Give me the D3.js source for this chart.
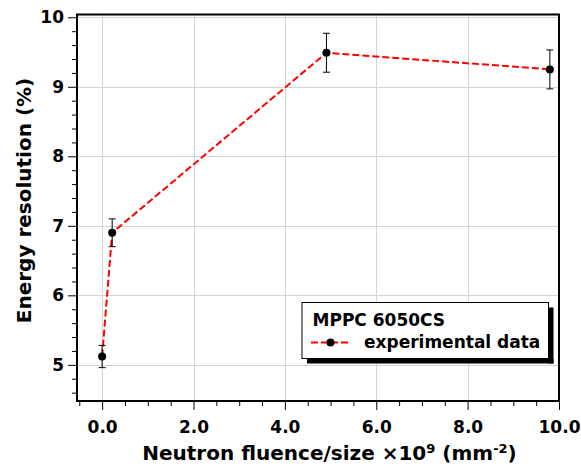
<!DOCTYPE html>
<html>
<head>
<meta charset="utf-8">
<script src="https://cdn.jsdelivr.net/npm/d3@7"></script>
<style>
  html, body { margin: 0; padding: 0; background: #fff; }
  svg { display: block; }
  text { font-family: "DejaVu Sans", Verdana, sans-serif; font-weight: bold; fill: #000; }
</style>
</head>
<body>
<svg id="chart" width="581" height="466"></svg>
<script>
// Energy resolution of the MPPC 6050CS versus neutron fluence
const fluence = [0.0, 0.22, 4.91, 9.80];          // ×10^9 mm^-2
const resolution = [5.12, 6.90, 9.49, 9.25];       // %
const resolutionErr = [0.16, 0.20, 0.28, 0.28];    // %
const xTickValues = [0, 2, 4, 6, 8, 10];
const xTickLabels = ["0.0", "2.0", "4.0", "6.0", "8.0", "10.0"];
const yTickValues = [5, 6, 7, 8, 9, 10];
const yTickLabels = ["5", "6", "7", "8", "9", "10"];
const seriesName = "experimental data";
const legendTitle = "MPPC 6050CS";

const svg = d3.select("#chart");
const plotLeft = 77, plotRight = 559, plotTop = 14.5, plotBottom = 401;

const x = d3.scaleLinear().domain([-0.55, 10.0]).range([plotLeft, plotRight]);
const y = d3.scaleLinear().domain([4.48, 10.04]).range([plotBottom, plotTop]);

// grid lines
const grid = svg.append("g").attr("stroke", "#d4d4d4").attr("stroke-width", 1);
grid.selectAll("line.v").data(xTickValues).join("line").attr("class", "v")
  .attr("x1", d => Math.round(x(d)) + 0.5).attr("x2", d => Math.round(x(d)) + 0.5)
  .attr("y1", plotTop).attr("y2", plotBottom);
grid.selectAll("line.h").data(yTickValues).join("line").attr("class", "h")
  .attr("y1", d => Math.round(y(d)) + 0.5).attr("y2", d => Math.round(y(d)) + 0.5)
  .attr("x1", plotLeft).attr("x2", plotRight);

// minor + major ticks
const xMinor = d3.range(-0.5, 10.01, 0.5).map(v => Math.round(v * 10) / 10).filter(v => !xTickValues.includes(v));
const yMinor = d3.range(4.6, 10.01, 0.2).map(v => Math.round(v * 10) / 10).filter(v => !yTickValues.includes(v));

const xAxisMajor = d3.axisBottom(x).tickValues(xTickValues).tickSize(9).tickFormat((d, i) => xTickLabels[i]).tickPadding(8);
const xAxisMinor = d3.axisBottom(x).tickValues(xMinor).tickSize(5).tickFormat("");
const yAxisMajor = d3.axisLeft(y).tickValues(yTickValues).tickSize(9).tickFormat((d, i) => yTickLabels[i]).tickPadding(4);
const yAxisMinor = d3.axisLeft(y).tickValues(yMinor).tickSize(5).tickFormat("");

function styleAxis(g) {
  g.select(".domain").remove();
  g.selectAll(".tick line").attr("stroke", "#000").attr("stroke-width", 1);
  g.selectAll(".tick text").attr("font-size", 17).attr("font-family", "DejaVu Sans").attr("font-weight", "bold").attr("fill", "#000");
}
svg.append("g").attr("transform", `translate(0,${plotBottom})`).call(xAxisMinor).call(styleAxis);
svg.append("g").attr("transform", `translate(0,${plotBottom})`).call(xAxisMajor).call(styleAxis)
  .selectAll(".tick text").attr("y", 32).attr("dy", null);
svg.append("g").attr("transform", `translate(${plotLeft},0)`).call(yAxisMinor).call(styleAxis);
svg.append("g").attr("transform", `translate(${plotLeft},0)`).call(yAxisMajor).call(styleAxis);

// frame
svg.append("rect").attr("x", plotLeft).attr("y", plotTop).attr("width", plotRight - plotLeft).attr("height", plotBottom - plotTop)
  .attr("fill", "none").attr("stroke", "#000").attr("stroke-width", 2);

const pts = fluence.map((f, i) => ({ f, r: resolution[i], e: resolutionErr[i] }));

// connecting dashed line
svg.append("path").datum(pts)
  .attr("d", d3.line().x(d => x(d.f)).y(d => y(d.r)))
  .attr("fill", "none").attr("stroke", "#ff0000").attr("stroke-width", 2)
  .attr("stroke-dasharray", "7,3");

// error bars
const eb = svg.append("g").attr("stroke", "#000").attr("stroke-width", 1);
eb.selectAll("line.bar").data(pts).join("line").attr("class", "bar")
  .attr("x1", d => x(d.f)).attr("x2", d => x(d.f))
  .attr("y1", d => y(d.r + d.e)).attr("y2", d => y(d.r - d.e));
eb.selectAll("line.capT").data(pts).join("line").attr("class", "capT")
  .attr("x1", d => x(d.f) - 3.5).attr("x2", d => x(d.f) + 3.5)
  .attr("y1", d => y(d.r + d.e)).attr("y2", d => y(d.r + d.e));
eb.selectAll("line.capB").data(pts).join("line").attr("class", "capB")
  .attr("x1", d => x(d.f) - 3.5).attr("x2", d => x(d.f) + 3.5)
  .attr("y1", d => y(d.r - d.e)).attr("y2", d => y(d.r - d.e));

// markers
svg.append("g").selectAll("circle").data(pts).join("circle")
  .attr("cx", d => x(d.f)).attr("cy", d => y(d.r)).attr("r", 4).attr("fill", "#000");

// axis titles
svg.append("text").attr("x", 329.5).attr("y", 460).attr("text-anchor", "middle").attr("font-size", 20)
  .call(t => {
    t.append("tspan").text("Neutron fluence/size ×10");
    t.append("tspan").attr("font-size", 13).attr("dy", -7).text("9");
    t.append("tspan").attr("dy", 7).text(" (mm");
    t.append("tspan").attr("font-size", 13).attr("dy", -7).text("-2");
    t.append("tspan").attr("dy", 7).text(")");
  });
svg.append("text").attr("transform", "translate(31,200.5) rotate(-90)").attr("text-anchor", "middle")
  .attr("font-size", 20).text("Energy resolution (%)");

// legend with drop shadow
const lg = svg.append("g");
const lx = 302, ly = 302.5, lw = 246.5, lh = 56, sh = 5;
lg.append("rect").attr("x", lx + lw).attr("y", ly + sh).attr("width", sh).attr("height", lh).attr("fill", "#000");
lg.append("rect").attr("x", lx + sh).attr("y", ly + lh).attr("width", lw).attr("height", sh).attr("fill", "#000");
lg.append("rect").attr("x", lx).attr("y", ly).attr("width", lw).attr("height", lh)
  .attr("fill", "#fff").attr("stroke", "#000").attr("stroke-width", 1);
lg.append("text").attr("x", 312.5).attr("y", 325.5).attr("font-size", 17).text(legendTitle);
lg.append("line").attr("x1", 311).attr("x2", 350).attr("y1", 342.5).attr("y2", 342.5)
  .attr("stroke", "#ff0000").attr("stroke-width", 2).attr("stroke-dasharray", "7,3");
lg.append("circle").attr("cx", 330.5).attr("cy", 342.5).attr("r", 4).attr("fill", "#000");
lg.append("text").attr("x", 364).attr("y", 347.5).attr("font-size", 17).text(seriesName);
</script>
</body>
</html>
